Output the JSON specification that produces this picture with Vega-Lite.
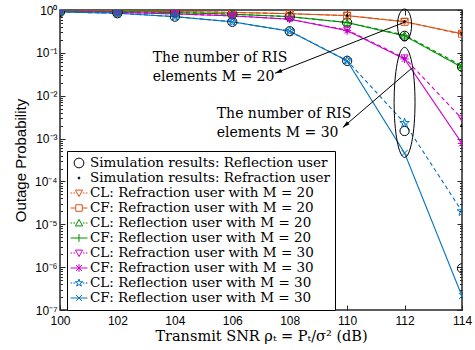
{
  "$schema": "https://vega.github.io/schema/vega-lite/v6.json",
  "width": 402,
  "height": 300,
  "autosize": {"type": "none"},
  "padding": {"left": 60, "top": 10, "right": 13, "bottom": 40},
  "background": "white",
  "config": {
    "view": {"stroke": "#262626", "strokeWidth": 1.5},
    "axis": {"grid": false, "domain": false, "labelFont": "Liberation Sans", "labelFontSize": 12, "labelColor": "black", "tickColor": "#262626", "tickWidth": 1, "titleColor": "black", "labelFlush": false}
  },
  "datasets": {
    "pts": [
      {"s": "CL: Refraction user with M = 20", "x": 100, "y": 0.96},
      {"s": "CL: Refraction user with M = 20", "x": 102, "y": 0.95},
      {"s": "CL: Refraction user with M = 20", "x": 104, "y": 0.92},
      {"s": "CL: Refraction user with M = 20", "x": 106, "y": 0.88},
      {"s": "CL: Refraction user with M = 20", "x": 108, "y": 0.82},
      {"s": "CL: Refraction user with M = 20", "x": 110, "y": 0.74},
      {"s": "CL: Refraction user with M = 20", "x": 112, "y": 0.54},
      {"s": "CL: Refraction user with M = 20", "x": 114, "y": 0.27},
      {"s": "CF: Refraction user with M = 20", "x": 100, "y": 0.96},
      {"s": "CF: Refraction user with M = 20", "x": 102, "y": 0.95},
      {"s": "CF: Refraction user with M = 20", "x": 104, "y": 0.92},
      {"s": "CF: Refraction user with M = 20", "x": 106, "y": 0.88},
      {"s": "CF: Refraction user with M = 20", "x": 108, "y": 0.82},
      {"s": "CF: Refraction user with M = 20", "x": 110, "y": 0.74},
      {"s": "CF: Refraction user with M = 20", "x": 112, "y": 0.53},
      {"s": "CF: Refraction user with M = 20", "x": 114, "y": 0.28},
      {"s": "CL: Reflection user with M = 20", "x": 100, "y": 0.95},
      {"s": "CL: Reflection user with M = 20", "x": 102, "y": 0.92},
      {"s": "CL: Reflection user with M = 20", "x": 104, "y": 0.87},
      {"s": "CL: Reflection user with M = 20", "x": 106, "y": 0.80},
      {"s": "CL: Reflection user with M = 20", "x": 108, "y": 0.70},
      {"s": "CL: Reflection user with M = 20", "x": 110, "y": 0.51},
      {"s": "CL: Reflection user with M = 20", "x": 112, "y": 0.26},
      {"s": "CL: Reflection user with M = 20", "x": 114, "y": 0.05},
      {"s": "CF: Reflection user with M = 20", "x": 100, "y": 0.95},
      {"s": "CF: Reflection user with M = 20", "x": 102, "y": 0.92},
      {"s": "CF: Reflection user with M = 20", "x": 104, "y": 0.87},
      {"s": "CF: Reflection user with M = 20", "x": 106, "y": 0.80},
      {"s": "CF: Reflection user with M = 20", "x": 108, "y": 0.70},
      {"s": "CF: Reflection user with M = 20", "x": 110, "y": 0.51},
      {"s": "CF: Reflection user with M = 20", "x": 112, "y": 0.25},
      {"s": "CF: Reflection user with M = 20", "x": 114, "y": 0.046},
      {"s": "CL: Refraction user with M = 30", "x": 100, "y": 0.93},
      {"s": "CL: Refraction user with M = 30", "x": 102, "y": 0.88},
      {"s": "CL: Refraction user with M = 30", "x": 104, "y": 0.81},
      {"s": "CL: Refraction user with M = 30", "x": 106, "y": 0.73},
      {"s": "CL: Refraction user with M = 30", "x": 108, "y": 0.61},
      {"s": "CL: Refraction user with M = 30", "x": 110, "y": 0.34},
      {"s": "CL: Refraction user with M = 30", "x": 112, "y": 0.076},
      {"s": "CL: Refraction user with M = 30", "x": 114, "y": 0.0029},
      {"s": "CF: Refraction user with M = 30", "x": 100, "y": 0.93},
      {"s": "CF: Refraction user with M = 30", "x": 102, "y": 0.88},
      {"s": "CF: Refraction user with M = 30", "x": 104, "y": 0.81},
      {"s": "CF: Refraction user with M = 30", "x": 106, "y": 0.73},
      {"s": "CF: Refraction user with M = 30", "x": 108, "y": 0.61},
      {"s": "CF: Refraction user with M = 30", "x": 110, "y": 0.33},
      {"s": "CF: Refraction user with M = 30", "x": 112, "y": 0.072},
      {"s": "CF: Refraction user with M = 30", "x": 114, "y": 0.00077},
      {"s": "CL: Reflection user with M = 30", "x": 100, "y": 0.90},
      {"s": "CL: Reflection user with M = 30", "x": 102, "y": 0.84},
      {"s": "CL: Reflection user with M = 30", "x": 104, "y": 0.70},
      {"s": "CL: Reflection user with M = 30", "x": 106, "y": 0.53},
      {"s": "CL: Reflection user with M = 30", "x": 108, "y": 0.32},
      {"s": "CL: Reflection user with M = 30", "x": 110, "y": 0.066},
      {"s": "CL: Reflection user with M = 30", "x": 112, "y": 0.0023},
      {"s": "CL: Reflection user with M = 30", "x": 114, "y": 0.00002},
      {"s": "CF: Reflection user with M = 30", "x": 100, "y": 0.90},
      {"s": "CF: Reflection user with M = 30", "x": 102, "y": 0.84},
      {"s": "CF: Reflection user with M = 30", "x": 104, "y": 0.70},
      {"s": "CF: Reflection user with M = 30", "x": 106, "y": 0.53},
      {"s": "CF: Reflection user with M = 30", "x": 108, "y": 0.32},
      {"s": "CF: Reflection user with M = 30", "x": 110, "y": 0.065},
      {"s": "CF: Reflection user with M = 30", "x": 112, "y": 0.00046},
      {"s": "CF: Reflection user with M = 30", "x": 114, "y": 0.00000021},
      {"s": "Simulation results: Reflection user", "x": 100, "y": 0.95},
      {"s": "Simulation results: Reflection user", "x": 102, "y": 0.92},
      {"s": "Simulation results: Reflection user", "x": 104, "y": 0.87},
      {"s": "Simulation results: Reflection user", "x": 106, "y": 0.80},
      {"s": "Simulation results: Reflection user", "x": 108, "y": 0.70},
      {"s": "Simulation results: Reflection user", "x": 110, "y": 0.51},
      {"s": "Simulation results: Reflection user", "x": 112, "y": 0.25},
      {"s": "Simulation results: Reflection user", "x": 114, "y": 0.047},
      {"s": "Simulation results: Reflection user", "x": 100, "y": 0.90},
      {"s": "Simulation results: Reflection user", "x": 102, "y": 0.84},
      {"s": "Simulation results: Reflection user", "x": 104, "y": 0.70},
      {"s": "Simulation results: Reflection user", "x": 106, "y": 0.53},
      {"s": "Simulation results: Reflection user", "x": 108, "y": 0.32},
      {"s": "Simulation results: Reflection user", "x": 110, "y": 0.065},
      {"s": "Simulation results: Reflection user", "x": 112, "y": 0.0015},
      {"s": "Simulation results: Reflection user", "x": 114, "y": 0.00000094},
      {"s": "Simulation results: Refraction user", "x": 100, "y": 0.96},
      {"s": "Simulation results: Refraction user", "x": 102, "y": 0.95},
      {"s": "Simulation results: Refraction user", "x": 104, "y": 0.92},
      {"s": "Simulation results: Refraction user", "x": 106, "y": 0.88},
      {"s": "Simulation results: Refraction user", "x": 108, "y": 0.82},
      {"s": "Simulation results: Refraction user", "x": 110, "y": 0.74},
      {"s": "Simulation results: Refraction user", "x": 112, "y": 0.54},
      {"s": "Simulation results: Refraction user", "x": 114, "y": 0.27},
      {"s": "Simulation results: Refraction user", "x": 100, "y": 0.93},
      {"s": "Simulation results: Refraction user", "x": 102, "y": 0.88},
      {"s": "Simulation results: Refraction user", "x": 104, "y": 0.81},
      {"s": "Simulation results: Refraction user", "x": 106, "y": 0.73},
      {"s": "Simulation results: Refraction user", "x": 108, "y": 0.61},
      {"s": "Simulation results: Refraction user", "x": 110, "y": 0.33},
      {"s": "Simulation results: Refraction user", "x": 112, "y": 0.074},
      {"s": "Simulation results: Refraction user", "x": 114, "y": 0.002}
    ],
    "notes": [
      {"x": 103.23, "y": 0.0605, "text": "The number of RIS"},
      {"x": 103.23, "y": 0.0217, "text": "elements M = 20"},
      {"x": 105.46, "y": 0.00296, "text": "The number of RIS"},
      {"x": 105.46, "y": 0.00106, "text": "elements M = 30"}
    ],
    "arrows": [
      {"id": "a20", "x": 112.02, "y": 0.524, "x2": 107.49, "y2": 0.0335},
      {"id": "a30", "x": 112.25, "y": 0.0438, "x2": 109.85, "y2": 0.00182}
    ],
    "rings": [
      {"id": "small", "x": 112, "y": 0.445},
      {"id": "big", "x": 112, "y": 0.007}
    ]
  },
  "resolve": {"axis": {"x": "independent", "y": "independent"}},
  "encoding": {
    "x": {"field": "x", "type": "quantitative", "scale": {"domain": [100, 114], "nice": false, "zero": false}, "axis": null},
    "y": {"field": "y", "type": "quantitative", "scale": {"type": "log", "domain": [0.0000001, 1], "nice": false}, "axis": null}
  },
  "layer": [
    {
      "data": {"name": "pts"},
      "transform": [{"filter": {"not": {"field": "s", "oneOf": ["Simulation results: Reflection user", "Simulation results: Refraction user"]}}}],
      "mark": {"type": "line", "strokeWidth": 1.1, "clip": true},
      "encoding": {
        "x": {"field": "x", "type": "quantitative", "scale": {"domain": [100, 114], "nice": false, "zero": false},
          "axis": {"orient": "bottom", "values": [100, 102, 104, 106, 108, 110, 112, 114], "tickSize": -5, "labelPadding": 10, "title": "Transmit SNR ρₜ = Pₜ/σ² (dB)", "titleFont": "DejaVu Serif", "titleFontSize": 14.5, "titleFontWeight": "normal", "titlePadding": 3}},
        "y": {"field": "y", "type": "quantitative", "scale": {"type": "log", "domain": [0.0000001, 1], "nice": false},
          "axis": {"orient": "left",
            "values": [0.0000001, 0.0000002, 0.0000003, 0.0000004, 0.0000005, 0.0000006, 0.0000007, 0.0000008, 0.0000009, 0.000001, 0.000002, 0.000003, 0.000004, 0.000005, 0.000006, 0.000007, 0.000008, 0.000009, 0.00001, 0.00002, 0.00003, 0.00004, 0.00005, 0.00006, 0.00007, 0.00008, 0.00009, 0.0001, 0.0002, 0.0003, 0.0004, 0.0005, 0.0006, 0.0007, 0.0008, 0.0009, 0.001, 0.002, 0.003, 0.004, 0.005, 0.006, 0.007, 0.008, 0.009, 0.01, 0.02, 0.03, 0.04, 0.05, 0.06, 0.07, 0.08, 0.09, 0.1, 0.2, 0.3, 0.4, 0.5, 0.6, 0.7, 0.8, 0.9, 1],
            "labelExpr": "abs(log(datum.value)/LN10 - round(log(datum.value)/LN10)) < 0.001 ? '10' + ['⁰','⁻¹','⁻²','⁻³','⁻⁴','⁻⁵','⁻⁶','⁻⁷'][-round(log(datum.value)/LN10)] : ''",
            "tickSize": {"condition": {"test": "abs(log(datum.value)/LN10 - round(log(datum.value)/LN10)) < 0.001", "value": -5}, "value": -2.5},
            "labelPadding": 8, "labelOverlap": false, "labelBound": false,
            "title": "Outage Probability", "titleFont": "Liberation Sans", "titleFontSize": 15, "titleFontWeight": "normal", "titlePadding": 6}},
        "color": {"field": "s", "type": "nominal",
          "scale": {"domain": ["Simulation results: Reflection user", "Simulation results: Refraction user", "CL: Refraction user with M = 20", "CF: Refraction user with M = 20", "CL: Reflection user with M = 20", "CF: Reflection user with M = 20", "CL: Refraction user with M = 30", "CF: Refraction user with M = 30", "CL: Reflection user with M = 30", "CF: Reflection user with M = 30"],
            "range": ["black", "black", "#D95319", "#D95319", "#009000", "#009000", "#CC00CC", "#CC00CC", "#0072BD", "#0072BD"]}},
        "strokeDash": {"field": "s", "type": "nominal", "legend": null,
          "scale": {"domain": ["CL: Refraction user with M = 20", "CF: Refraction user with M = 20", "CL: Reflection user with M = 20", "CF: Reflection user with M = 20", "CL: Refraction user with M = 30", "CF: Refraction user with M = 30", "CL: Reflection user with M = 30", "CF: Reflection user with M = 30"],
            "range": [[4, 3], [1, 0], [4, 3], [1, 0], [4, 3], [1, 0], [4, 3], [1, 0]]}}
      }
    },
    {
      "data": {"name": "pts"},
      "mark": {"type": "point", "opacity": 0, "filled": false, "strokeWidth": 1},
      "encoding": {
        "x": {"field": "x", "type": "quantitative", "scale": {"domain": [100, 114], "nice": false, "zero": false},
          "axis": {"orient": "top", "values": [100, 102, 104, 106, 108, 110, 112, 114], "tickSize": -5, "labels": false, "title": null}},
        "y": {"field": "y", "type": "quantitative", "scale": {"type": "log", "domain": [0.0000001, 1], "nice": false},
          "axis": {"orient": "right",
            "values": [0.0000001, 0.0000002, 0.0000003, 0.0000004, 0.0000005, 0.0000006, 0.0000007, 0.0000008, 0.0000009, 0.000001, 0.000002, 0.000003, 0.000004, 0.000005, 0.000006, 0.000007, 0.000008, 0.000009, 0.00001, 0.00002, 0.00003, 0.00004, 0.00005, 0.00006, 0.00007, 0.00008, 0.00009, 0.0001, 0.0002, 0.0003, 0.0004, 0.0005, 0.0006, 0.0007, 0.0008, 0.0009, 0.001, 0.002, 0.003, 0.004, 0.005, 0.006, 0.007, 0.008, 0.009, 0.01, 0.02, 0.03, 0.04, 0.05, 0.06, 0.07, 0.08, 0.09, 0.1, 0.2, 0.3, 0.4, 0.5, 0.6, 0.7, 0.8, 0.9, 1],
            "tickSize": {"condition": {"test": "abs(log(datum.value)/LN10 - round(log(datum.value)/LN10)) < 0.001", "value": -5}, "value": -2.5},
            "labels": false, "title": null}},
        "color": {"field": "s", "type": "nominal",
          "legend": {"orient": "none", "legendX": 7, "legendY": 141, "title": null, "fillColor": "white", "strokeColor": "black", "padding": 5,
            "labelFont": "DejaVu Serif", "labelFontSize": 13.5, "labelColor": "black", "labelLimit": 400, "labelOffset": 4,
            "symbolSize": 169, "symbolStrokeWidth": 1, "symbolOpacity": 1, "symbolFillColor": "transparent", "rowPadding": 1}},
        "shape": {"field": "s", "type": "nominal",
          "scale": {"domain": ["Simulation results: Reflection user", "Simulation results: Refraction user", "CL: Refraction user with M = 20", "CF: Refraction user with M = 20", "CL: Reflection user with M = 20", "CF: Reflection user with M = 20", "CL: Refraction user with M = 30", "CF: Refraction user with M = 30", "CL: Reflection user with M = 30", "CF: Reflection user with M = 30"],
            "range": ["M-0.75,0A0.75,0.75 0 1,0 0.75,0A0.75,0.75 0 1,0 -0.75,0", "M-0.15,0A0.15,0.15 0 1,0 0.15,0A0.15,0.15 0 1,0 -0.15,0M-0.07,0A0.07,0.07 0 1,0 0.07,0A0.07,0.07 0 1,0 -0.07,0", "M-1.3,0H-1.05M-0.85,0H-0.6M0.6,0H0.85M1.05,0H1.3M-0.55,-0.45L0.55,-0.45L0,0.55Z", "M-1.3,0H-0.5M0.5,0H1.3M-0.5,-0.5H0.5V0.5H-0.5Z", "M-1.3,0H-1.05M-0.85,0H-0.6M0.6,0H0.85M1.05,0H1.3M-0.55,0.45L0.55,0.45L0,-0.55Z", "M-1.3,0H1.3M0,-0.6V0.6", "M-1.3,0H-1.05M-0.85,0H-0.6M0.6,0H0.85M1.05,0H1.3M-0.55,-0.45L0.55,-0.45L0,0.55Z", "M-1.3,0H1.3M0,-0.6V0.6M-0.45,-0.45L0.45,0.45M-0.45,0.45L0.45,-0.45", "M-1.3,0H-1.05M-0.85,0H-0.6M0.6,0H0.85M1.05,0H1.3M0,-0.6L0.135,-0.185L0.571,-0.185L0.218,0.071L0.353,0.485L0,0.229L-0.353,0.485L-0.218,0.071L-0.571,-0.185L-0.135,-0.185Z", "M-1.3,0H1.3M-0.45,-0.45L0.45,0.45M-0.45,0.45L0.45,-0.45"]},
          "legend": {"orient": "none", "legendX": 7, "legendY": 141, "title": null, "fillColor": "white", "strokeColor": "black", "padding": 5,
            "labelFont": "DejaVu Serif", "labelFontSize": 13.5, "labelColor": "black", "labelLimit": 400, "labelOffset": 4,
            "symbolSize": 169, "symbolStrokeWidth": 1, "symbolOpacity": 1, "symbolFillColor": "transparent", "rowPadding": 1}}
      }
    },
    {
      "data": {"name": "pts"},
      "transform": [{"filter": "datum.s === 'Simulation results: Reflection user'"}],
      "mark": {"type": "point", "shape": "circle", "size": 85, "filled": false, "color": "black", "strokeWidth": 1, "opacity": 1, "clip": true}
    },
    {
      "data": {"name": "pts"},
      "transform": [{"filter": "datum.s === 'Simulation results: Refraction user'"}],
      "mark": {"type": "point", "shape": "circle", "size": 10, "filled": true, "color": "black", "opacity": 1, "clip": true}
    },
    {
      "data": {"name": "pts"},
      "transform": [{"filter": "datum.s === 'CL: Refraction user with M = 20'"}],
      "mark": {"type": "point", "shape": "triangle-down", "size": 50, "filled": false, "color": "#D95319", "strokeWidth": 1, "opacity": 1, "clip": true}
    },
    {
      "data": {"name": "pts"},
      "transform": [{"filter": "datum.s === 'CF: Refraction user with M = 20'"}],
      "mark": {"type": "point", "shape": "square", "size": 50, "filled": false, "color": "#D95319", "strokeWidth": 1, "opacity": 1, "clip": true}
    },
    {
      "data": {"name": "pts"},
      "transform": [{"filter": "datum.s === 'CL: Reflection user with M = 20'"}],
      "mark": {"type": "point", "shape": "triangle-up", "size": 50, "filled": false, "color": "#009000", "strokeWidth": 1, "opacity": 1, "clip": true}
    },
    {
      "data": {"name": "pts"},
      "transform": [{"filter": "datum.s === 'CF: Reflection user with M = 20'"}],
      "mark": {"type": "point", "shape": "M-1,0H1M0,-1V1", "size": 70, "filled": false, "color": "#009000", "strokeWidth": 1, "opacity": 1, "clip": true}
    },
    {
      "data": {"name": "pts"},
      "transform": [{"filter": "datum.s === 'CL: Refraction user with M = 30'"}],
      "mark": {"type": "point", "shape": "triangle-down", "size": 50, "filled": false, "color": "#CC00CC", "strokeWidth": 1, "opacity": 1, "clip": true}
    },
    {
      "data": {"name": "pts"},
      "transform": [{"filter": "datum.s === 'CF: Refraction user with M = 30'"}],
      "mark": {"type": "point", "shape": "M-1,0H1M0,-1V1M-0.7,-0.7L0.7,0.7M-0.7,0.7L0.7,-0.7", "size": 70, "filled": false, "color": "#CC00CC", "strokeWidth": 1, "opacity": 1, "clip": true}
    },
    {
      "data": {"name": "pts"},
      "transform": [{"filter": "datum.s === 'CL: Reflection user with M = 30'"}],
      "mark": {"type": "point", "shape": "M0,-1L0.225,-0.309L0.951,-0.309L0.363,0.118L0.588,0.809L0,0.382L-0.588,0.809L-0.363,0.118L-0.951,-0.309L-0.225,-0.309Z", "size": 100, "filled": false, "color": "#0072BD", "strokeWidth": 1, "opacity": 1, "clip": true}
    },
    {
      "data": {"name": "pts"},
      "transform": [{"filter": "datum.s === 'CF: Reflection user with M = 30'"}],
      "mark": {"type": "point", "shape": "M-0.8,-0.8L0.8,0.8M-0.8,0.8L0.8,-0.8", "size": 60, "filled": false, "color": "#0072BD", "strokeWidth": 1, "opacity": 1, "clip": true}
    },
    {
      "data": {"name": "rings"},
      "transform": [{"filter": "datum.id === 'small'"}],
      "mark": {"type": "point", "shape": "M0,-1A0.44,1 0 1,1 0,1A0.44,1 0 1,1 0,-1", "size": 1024, "filled": false, "color": "black", "strokeWidth": 1, "opacity": 1}
    },
    {
      "data": {"name": "rings"},
      "transform": [{"filter": "datum.id === 'big'"}],
      "mark": {"type": "point", "shape": "M0,-1A0.19,1 0 1,1 0,1A0.19,1 0 1,1 0,-1", "size": 12100, "filled": false, "color": "black", "strokeWidth": 1, "opacity": 1}
    },
    {
      "data": {"name": "arrows"},
      "mark": {"type": "rule", "color": "black", "strokeWidth": 1},
      "encoding": {
        "x2": {"field": "x2"},
        "y2": {"field": "y2"}
      }
    },
    {
      "data": {"name": "arrows"},
      "transform": [{"filter": "datum.id === 'a20'"}],
      "mark": {"type": "point", "shape": "M0,0L-0.45,1.6L0.45,1.6Z", "size": 77, "filled": true, "color": "black", "opacity": 1, "angle": 248.6},
      "encoding": {
        "x": {"field": "x2", "type": "quantitative", "scale": {"domain": [100, 114], "nice": false, "zero": false}, "axis": null},
        "y": {"field": "y2", "type": "quantitative", "scale": {"type": "log", "domain": [0.0000001, 1], "nice": false}, "axis": null}
      }
    },
    {
      "data": {"name": "arrows"},
      "transform": [{"filter": "datum.id === 'a30'"}],
      "mark": {"type": "point", "shape": "M0,0L-0.45,1.6L0.45,1.6Z", "size": 77, "filled": true, "color": "black", "opacity": 1, "angle": 229.5},
      "encoding": {
        "x": {"field": "x2", "type": "quantitative", "scale": {"domain": [100, 114], "nice": false, "zero": false}, "axis": null},
        "y": {"field": "y2", "type": "quantitative", "scale": {"type": "log", "domain": [0.0000001, 1], "nice": false}, "axis": null}
      }
    },
    {
      "data": {"name": "notes"},
      "mark": {"type": "text", "align": "left", "baseline": "alphabetic", "font": "DejaVu Serif", "fontSize": 14, "color": "black"},
      "encoding": {
        "text": {"field": "text"}
      }
    }
  ]
}
